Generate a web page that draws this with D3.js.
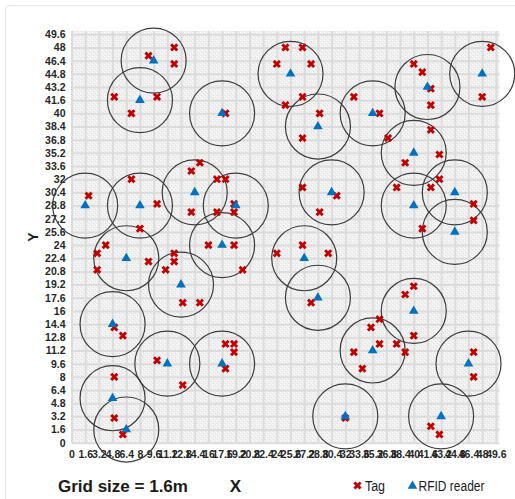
<!DOCTYPE html>
<html>
<head>
<meta charset="utf-8">
<script src="https://cdn.jsdelivr.net/npm/d3@7"></script>
<style>
  body { margin: 0; background: #fff; }
  svg { display: block; font-family: Arial, "Liberation Sans", sans-serif; }
</style>
</head>
<body>
<svg id="chart" width="515" height="499"></svg>
<script>
// reader positions (x, y) in metres
const readers = [
  [9.6, 46.4], [8, 41.6], [17.6, 40], [25.6, 44.8], [28.8, 38.4], [35.2, 40],
  [41.6, 43.2], [48, 44.8], [40, 35.2], [1.6, 28.8], [8, 28.8], [14.4, 30.4],
  [19.2, 28.8], [30.4, 30.4], [40, 28.8], [44.8, 30.4], [44.8, 25.6], [6.4, 22.4],
  [12.8, 19.2], [17.6, 24], [27.2, 22.4], [28.8, 17.6], [4.8, 14.4], [11.2, 9.6],
  [17.6, 9.6], [35.2, 11.2], [40, 16], [46.4, 9.6], [4.8, 5.4], [6.4, 1.6],
  [32, 3.2], [43.2, 3.2]
]

// tag positions (x, y)
const tags = [
  [12, 48], [9, 47], [12, 46], [5, 42], [10, 42], [7, 40], [15, 34], [14, 33],
  [7, 32], [2, 30], [10, 29], [14, 28], [8, 26], [4, 24],
  [25, 48], [27, 48], [24, 46], [28, 46], [27, 42], [25, 41], [18, 40], [29, 40],
  [27, 37], [17, 32], [18, 32], [19, 29], [17, 28], [19, 28], [27, 31], [31, 30], [29, 28],
  [49, 48], [40, 46], [41, 45], [42, 43], [42, 41], [48, 42], [33, 42], [36, 40],
  [42, 38], [37, 37], [43, 35], [39, 34], [43, 32], [38, 31], [42, 31], [47, 29],
  [47, 27], [41, 26],
  [3, 23], [3, 21], [9, 22], [12, 23], [12, 22], [11, 21], [13, 17], [15, 17],
  [16, 24], [5, 14], [6, 13], [10, 10], [13, 7], [5, 8], [5, 3], [6, 1],
  [19, 24], [20, 21], [24, 23], [27, 24], [30, 23], [28, 17], [18, 12], [19, 12],
  [19, 11], [18, 9], [32, 3],
  [40, 19], [39, 18], [40, 13], [36, 15], [35, 14], [36, 12], [38, 12], [39, 11],
  [33, 11], [34, 9], [47, 11], [47, 8], [42, 2], [43, 1]
]

const tickValues = [0, 1.6, 3.2, 4.8, 6.4, 8, 9.6, 11.2, 12.8, 14.4, 16, 17.6, 19.2,
  20.8, 22.4, 24, 25.6, 27.2, 28.8, 30.4, 32, 33.6, 35.2, 36.8, 38.4, 40, 41.6,
  43.2, 44.8, 46.4, 48, 49.6]

const readRange = 3.8 // coverage radius, metres

const svg = d3.select("#chart")
const plotL = 71.5, plotR = 499.3, plotT = 31, plotB = 442.7

const x = d3.scaleLinear().domain([0, 50]).range([plotL, plotR])
const y = d3.scaleLinear().domain([0, 50]).range([plotB, plotT])

// outer frame
svg.append("rect")
  .attr("x", 5.5).attr("y", 5.5).attr("width", 530).attr("height", 520)
  .attr("rx", 4)
  .attr("fill", "#fff").attr("stroke", "#e3e3e3")

// textured plot background
const pat = svg.append("defs").append("pattern")
  .attr("id", "tex").attr("width", 4).attr("height", 4)
  .attr("patternUnits", "userSpaceOnUse")
pat.append("rect").attr("width", 4).attr("height", 4).attr("fill", "#f0f0f0")
pat.append("rect").attr("x", 0).attr("y", 0).attr("width", 1).attr("height", 1).attr("fill", "#fbfbfb")
pat.append("rect").attr("x", 2).attr("y", 2).attr("width", 1).attr("height", 1).attr("fill", "#fbfbfb")
pat.append("rect").attr("x", 1).attr("y", 3).attr("width", 1).attr("height", 1).attr("fill", "#e2e2e2")
pat.append("rect").attr("x", 3).attr("y", 1).attr("width", 1).attr("height", 1).attr("fill", "#e2e2e2")

svg.append("rect")
  .attr("x", plotL).attr("y", plotT)
  .attr("width", plotR - plotL).attr("height", plotB - plotT)
  .attr("fill", "url(#tex)")

// grid lines
svg.append("g")
  .attr("transform", `translate(0,${plotB})`)
  .call(d3.axisBottom(x).tickValues(tickValues).tickSize(-(plotB - plotT)).tickFormat(""))
  .call(g => g.select(".domain").remove())
  .call(g => g.selectAll("line").attr("stroke", "#dcdcdc").attr("stroke-width", 2))

svg.append("g")
  .attr("transform", `translate(${plotL},0)`)
  .call(d3.axisLeft(y).tickValues(tickValues).tickSize(-(plotR - plotL)).tickFormat(""))
  .call(g => g.select(".domain").remove())
  .call(g => g.selectAll("line").attr("stroke", "#dcdcdc").attr("stroke-width", 2))

// axis labels
svg.append("g")
  .attr("transform", `translate(0,${plotB})`)
  .call(d3.axisBottom(x).tickValues(tickValues).tickSize(0).tickPadding(8).tickFormat(d3.format("")))
  .call(g => g.select(".domain").remove())
  .call(g => g.selectAll("text")
    .attr("fill", "#262626").style("font-size", "10.5px").style("font-weight", "bold")
    .style("font-family", "Arial, 'Liberation Sans', sans-serif"))

svg.append("g")
  .attr("transform", `translate(${plotL},0)`)
  .call(d3.axisLeft(y).tickValues(tickValues).tickSize(0).tickPadding(6).tickFormat(d3.format("")))
  .call(g => g.select(".domain").remove())
  .call(g => g.selectAll("text")
    .attr("fill", "#262626").style("font-size", "10.5px").style("font-weight", "bold")
    .style("font-family", "Arial, 'Liberation Sans', sans-serif"))

// coverage circles
const rPx = x(readRange) - x(0)
svg.append("g").selectAll("circle")
  .data(readers)
  .join("circle")
  .attr("cx", d => x(d[0])).attr("cy", d => y(d[1]))
  .attr("r", rPx)
  .attr("fill", "none").attr("stroke", "#3c3c3c").attr("stroke-width", 1.2)

// tags
const tagPath = d3.symbol(d3.symbolCross, 42)()
svg.append("g").selectAll("path")
  .data(tags)
  .join("path")
  .attr("d", tagPath)
  .attr("transform", d => `translate(${x(d[0])},${y(d[1])}) rotate(45)`)
  .attr("fill", "#c00000")

// readers
const readerPath = d3.symbol(d3.symbolTriangle, 40)()
svg.append("g").selectAll("path")
  .data(readers)
  .join("path")
  .attr("d", readerPath)
  .attr("transform", d => `translate(${x(d[0])},${y(d[1])})`)
  .attr("fill", "#0070c0")

// titles
svg.append("text")
  .text("Grid size = 1.6m")
  .attr("x", 58).attr("y", 491.5)
  .attr("fill", "#1a1a1a")
  .style("font-size", "17px").style("font-weight", "bold")

svg.append("text")
  .text("X")
  .attr("x", 235.5).attr("y", 491.5).attr("text-anchor", "middle")
  .attr("fill", "#1a1a1a")
  .style("font-size", "17px").style("font-weight", "bold")

svg.append("text")
  .text("Y")
  .attr("transform", "translate(37.5,237) rotate(-90)")
  .attr("text-anchor", "middle")
  .attr("fill", "#1a1a1a")
  .style("font-size", "14px").style("font-weight", "bold")

// legend
svg.append("path")
  .attr("d", tagPath)
  .attr("transform", "translate(357.5,485.5) rotate(45)")
  .attr("fill", "#c00000")
svg.append("text")
  .text("Tag")
  .attr("x", 365).attr("y", 491)
  .attr("fill", "#1a1a1a")
  .attr("textLength", 20).attr("lengthAdjust", "spacingAndGlyphs")
  .style("font-size", "14px")

svg.append("path")
  .attr("d", readerPath)
  .attr("transform", "translate(412.5,486)")
  .attr("fill", "#0070c0")
svg.append("text")
  .text("RFID reader")
  .attr("x", 418.5).attr("y", 491)
  .attr("fill", "#1a1a1a")
  .attr("textLength", 66).attr("lengthAdjust", "spacingAndGlyphs")
  .style("font-size", "14px")
</script>
</body>
</html>
